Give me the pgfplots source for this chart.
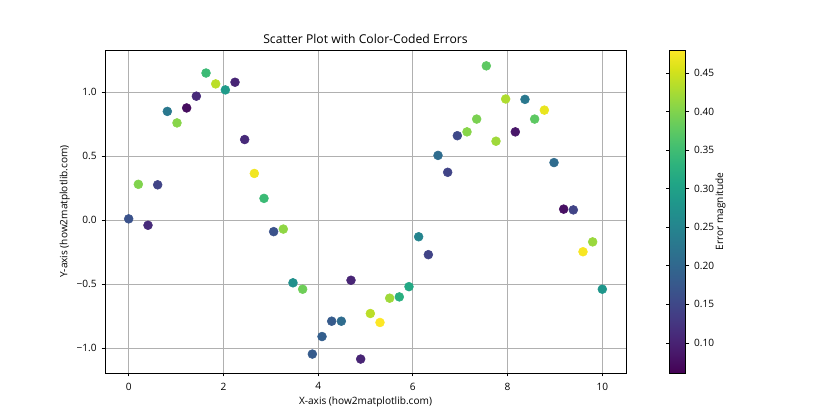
\documentclass[border=0pt]{standalone}
\usepackage{pgfplots}
\pgfplotsset{compat=1.18}
\usepackage{fontspec}
\setmainfont{Open Sans}
\pgfplotstableread{
x y e
0.000 0.010 0.166
0.204 0.280 0.400
0.408 -0.040 0.111
0.612 0.276 0.145
0.816 0.850 0.229
1.020 0.760 0.405
1.224 0.877 0.074
1.429 0.969 0.110
1.633 1.150 0.346
1.837 1.065 0.438
2.041 1.018 0.290
2.245 1.078 0.103
2.449 0.630 0.110
2.653 0.365 0.472
2.857 0.170 0.346
3.061 -0.090 0.166
3.265 -0.070 0.410
3.469 -0.490 0.270
3.673 -0.540 0.388
3.878 -1.047 0.180
4.082 -0.910 0.187
4.286 -0.790 0.180
4.490 -0.790 0.208
4.694 -0.470 0.103
4.898 -1.086 0.103
5.102 -0.730 0.438
5.306 -0.800 0.480
5.510 -0.610 0.420
5.714 -0.600 0.325
5.918 -0.520 0.312
6.122 -0.130 0.250
6.327 -0.270 0.145
6.531 0.506 0.208
6.735 0.374 0.145
6.939 0.660 0.153
7.143 0.690 0.405
7.347 0.790 0.396
7.551 1.206 0.375
7.755 0.617 0.420
7.959 0.947 0.430
8.163 0.690 0.086
8.367 0.944 0.229
8.571 0.790 0.375
8.776 0.860 0.467
8.980 0.450 0.208
9.184 0.086 0.078
9.388 0.080 0.145
9.592 -0.247 0.476
9.796 -0.170 0.417
10.000 -0.540 0.280
}\datatable
\definecolor{gridgray}{HTML}{B0B0B0}
\begin{document}
\begin{tikzpicture}
\begin{axis}[
  name=main,
  scale only axis, width=5.21in, height=3.23in,
  xmin=-0.5, xmax=10.5, ymin=-1.195, ymax=1.33,
  xtick={0,2,4,6,8,10},
  xticklabels={0,2,4,6,8,10},
  ytick={-1,-0.5,0,0.5,1},
  yticklabels={−1.0,−0.5,0.0,0.5,1.0},
  grid=major,
  major grid style={color=gridgray, line width=0.56pt},
  axis line style={line width=0.6pt, black},
  tick align=outside, tick pos=left,
  major tick length=2.5pt,
  tick style={line width=0.56pt, black},
  ticklabel style={font=\fontsize{7.3}{8.5}\selectfont},
  xticklabel style={yshift=-1pt},
  label style={font=\fontsize{7.3}{8.5}\selectfont},
  xlabel style={yshift=2pt},
  ylabel style={yshift=-2pt},
  title style={font=\fontsize{8.8}{10.5}\selectfont, yshift=-5pt},
  title={Scatter Plot with Color-Coded Errors},
  xlabel={X-axis (how2matplotlib.com)},
  ylabel={Y-axis (how2matplotlib.com)},
  colormap name=viridis,
  point meta min=0.061, point meta max=0.48,
  colorbar,
  colorbar style={
    at={(parent axis.north east)}, anchor=north west,
    xshift=0.32in, width=0.16in,
    scale only axis,
    ytick={0.10,0.15,0.20,0.25,0.30,0.35,0.40,0.45},
    yticklabels={0.10,0.15,0.20,0.25,0.30,0.35,0.40,0.45},
    tick align=outside, major tick length=2.5pt,
    tick style={line width=0.56pt, black},
    axis line style={line width=0.6pt, black},
    ticklabel style={font=\fontsize{7.3}{8.5}\selectfont},
    ylabel={Error magnitude},
    ylabel style={font=\fontsize{7.3}{8.5}\selectfont, yshift=6pt},
  },
]
\addplot[scatter, only marks, mark=*, mark size=3.2pt, scatter src=explicit,
  scatter/use mapped color={draw=mapped color, fill=mapped color}]
  table[x=x, y=y, meta=e] {\datatable};
\end{axis}
\path (main.south west) ++(-1.05in,-0.47in) coordinate (bbA);
\path (main.north east) ++(2.14in,0.50in) coordinate (bbB);
\path[use as bounding box] (bbA) rectangle (bbB);
\end{tikzpicture}
\end{document}
